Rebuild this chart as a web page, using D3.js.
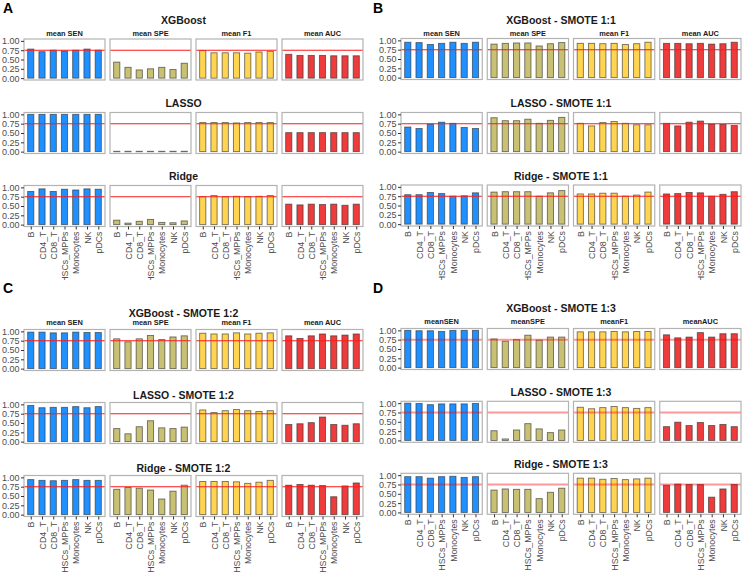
<!DOCTYPE html>
<html>
<head>
<meta charset="utf-8">
<script src="https://cdn.jsdelivr.net/npm/d3@7"></script>
<style>
  body { margin: 0; background: #fff; }
  text { font-family: "Liberation Sans", Arial, sans-serif; }
</style>
</head>
<body>
<div class="canvas"></div>
<script>
// categories + tick labels
const cellTypes = ["B", "CD4_T", "CD8_T", "HSCs_MPPs", "Monocytes", "NK", "pDCs"];
const models = ["XGBoost", "LASSO", "Ridge"];
const yTicks = [0, 0.25, 0.5, 0.75, 1];
const threshold = 0.75;
const metricColors = ["#1E90FF", "#C8C072", "#FFD451", "#EE3B3B"];

// values per panel: [SEN, SPE, F1, AUC]
const A_xgb   = [[0.78,0.71,0.75,0.73,0.75,0.78,0.75],[0.43,0.29,0.22,0.25,0.29,0.23,0.40],[0.74,0.68,0.68,0.68,0.67,0.70,0.72],[0.64,0.61,0.61,0.61,0.60,0.60,0.60]];
const A_lasso = [[1,1,1,1,1,1,1],[0.01,0.01,0.01,0.01,0.01,0.01,0.01],[0.78,0.78,0.78,0.77,0.78,0.78,0.78],[0.51,0.51,0.51,0.51,0.51,0.51,0.51]];
const A_ridge = [[0.89,0.96,0.89,0.95,0.93,0.96,0.95],[0.12,0.04,0.09,0.14,0.06,0.05,0.10],[0.75,0.78,0.75,0.76,0.75,0.76,0.78],[0.55,0.53,0.55,0.54,0.55,0.52,0.55]];

const B_xgb   = [[0.95,0.94,0.89,0.92,0.95,0.92,0.95],[0.90,0.92,0.93,0.93,0.85,0.91,0.94],[0.92,0.92,0.91,0.92,0.89,0.91,0.95],[0.92,0.92,0.91,0.92,0.90,0.91,0.95]];
const B_lasso = [[0.66,0.62,0.74,0.79,0.76,0.65,0.62],[0.91,0.83,0.83,0.87,0.76,0.84,0.92],[0.76,0.69,0.78,0.81,0.76,0.72,0.72],[0.76,0.69,0.79,0.82,0.74,0.73,0.70]];
const B_ridge = [[0.79,0.79,0.85,0.82,0.75,0.76,0.84],[0.86,0.87,0.87,0.87,0.75,0.84,0.90],[0.81,0.81,0.83,0.83,0.75,0.78,0.86],[0.81,0.82,0.85,0.84,0.75,0.80,0.87]];

const C_xgb   = [[0.98,0.98,0.96,0.96,0.98,0.97,0.97],[0.80,0.72,0.80,0.89,0.78,0.85,0.88],[0.95,0.93,0.93,0.96,0.93,0.95,0.96],[0.88,0.81,0.88,0.93,0.88,0.90,0.93]];
const C_lasso = [[0.97,0.91,0.92,0.92,0.94,0.91,0.94],[0.35,0.21,0.40,0.56,0.37,0.35,0.39],[0.85,0.78,0.83,0.86,0.83,0.81,0.83],[0.46,0.48,0.51,0.66,0.46,0.44,0.48]];
const C_ridge = [[0.94,0.92,0.91,0.92,0.94,0.92,0.92],[0.68,0.73,0.71,0.66,0.42,0.63,0.79],[0.89,0.89,0.89,0.88,0.84,0.87,0.92],[0.79,0.81,0.79,0.78,0.48,0.77,0.85]];

const D_xgb   = [[1.00,0.99,0.99,0.97,1.00,1.00,1.00],[0.77,0.71,0.75,0.87,0.74,0.82,0.82],[0.96,0.96,0.96,0.97,0.96,0.97,0.97],[0.88,0.80,0.82,0.94,0.82,0.91,0.91]];
const D_lasso = [[1.00,0.99,0.96,0.98,0.98,0.98,0.99],[0.26,0.04,0.28,0.45,0.31,0.21,0.28],[0.89,0.85,0.88,0.91,0.88,0.86,0.88],[0.37,0.49,0.40,0.48,0.40,0.43,0.37]];
const D_ridge = [[0.96,0.96,0.92,0.96,0.97,0.94,0.96],[0.60,0.63,0.62,0.62,0.37,0.54,0.65],[0.92,0.92,0.89,0.91,0.88,0.90,0.92],[0.73,0.76,0.75,0.75,0.41,0.63,0.75]];

const stripsSpaced = ["mean SEN", "mean SPE", "mean F1", "mean AUC"];
const stripsTight  = ["meanSEN", "meanSPE", "meanF1", "meanAUC"];

// layout of the four sub figures
const subfigs = [
  { letter: "A", x: 0,   y: 0,   w: 370, h: 280, boxL: 24,  boxR: 363, suffix: "",
    tops: [39, 112.5, 185.5], titleY: [20.7, 103, 176], stripY: 33, strips: stripsSpaced,
    data: [A_xgb, A_lasso, A_ridge], faded: false },
  { letter: "B", x: 370, y: 0,   w: 373, h: 280, boxL: 401, boxR: 741, suffix: " - SMOTE 1:1",
    tops: [38.5, 112.5, 185], titleY: [20, 103, 176], stripY: 33, strips: stripsSpaced,
    data: [B_xgb, B_lasso, B_ridge], faded: false },
  { letter: "C", x: 0,   y: 280, w: 370, h: 293, boxL: 24,  boxR: 363, suffix: " - SMOTE 1:2",
    tops: [329.5, 402.5, 475.5], titleY: [313, 395.3, 468.7], stripY: 322.7, strips: stripsSpaced,
    data: [C_xgb, C_lasso, C_ridge], faded: false },
  { letter: "D", x: 370, y: 280, w: 373, h: 293, boxL: 401, boxR: 741, suffix: " - SMOTE 1:3",
    tops: [328.5, 401.3, 473.3], titleY: [308, 392, 464], stripY: 321.3, strips: stripsTight,
    data: [D_xgb, D_lasso, D_ridge], faded: true }
];

const dims = { width: 743, height: 573, gap: 5, boxH: 41, barFrac: 0.55 };

const svg = d3.select('.canvas')
  .append('svg')
  .attr('width', dims.width)
  .attr('height', dims.height);

const fmt = d3.format(".2f");

subfigs.forEach((sf, si) => {
  const clipId = `clip${si}`;
  svg.append('clipPath').attr('id', clipId)
    .append('rect')
    .attr('x', sf.x).attr('y', sf.y).attr('width', sf.w).attr('height', sf.h);

  const g = svg.append('g').attr('clip-path', `url(#${clipId})`);

  // panel letter
  g.append('text')
    .attr('x', sf.x + 3).attr('y', sf.y + 13)
    .attr('font-size', 14).attr('font-weight', 'bold')
    .text(sf.letter);

  const fw = (sf.boxR - sf.boxL - 3 * dims.gap) / 4;

  const x = d3.scalePoint()
    .domain(cellTypes)
    .range([0, fw])
    .padding(0.6);
  const bw = x.step() * dims.barFrac;

  const y = d3.scaleLinear()
    .domain([-0.05, 1.05])
    .range([dims.boxH, 0]);

  models.forEach((model, r) => {
    const top = sf.tops[r];

    g.append('text')
      .attr('x', (sf.boxL - 20 + sf.boxR) / 2)
      .attr('y', sf.titleY[r])
      .attr('dy', '0.35em')
      .attr('text-anchor', 'middle')
      .attr('font-size', 10.5).attr('font-weight', 'bold')
      .attr('fill', '#1a1a1a')
      .text(model + sf.suffix);

    sf.data[r].forEach((vals, m) => {
      const fx = sf.boxL + m * (fw + dims.gap);
      const facet = g.append('g').attr('transform', `translate(${fx},${top})`);

      // strip labels on first row only
      if (r === 0) {
        g.append('text')
          .attr('x', fx + fw / 2).attr('y', sf.stripY)
          .attr('dy', '0.35em')
          .attr('text-anchor', 'middle')
          .attr('font-size', 7.4).attr('font-weight', 'bold')
          .attr('fill', '#1a1a1a')
          .text(sf.strips[m]);
      }

      facet.selectAll('rect.bar')
        .data(vals)
        .enter()
        .append('rect')
          .attr('class', 'bar')
          .attr('x', (d, i) => x(cellTypes[i]) - bw / 2)
          .attr('y', d => y(d))
          .attr('width', bw)
          .attr('height', d => Math.max(0.5, y(0) - y(d)))
          .attr('fill', metricColors[m])
          .attr('stroke', '#2b2b2b')
          .attr('stroke-opacity', 0.65)
          .attr('stroke-width', 0.9);

      // threshold line
      facet.append('line')
        .attr('x1', 0).attr('x2', fw)
        .attr('y1', y(threshold)).attr('y2', y(threshold))
        .attr('stroke', sf.faded ? 'rgba(255,0,0,0.4)' : '#ff1a1a')
        .attr('stroke-width', sf.faded ? 2 : 1.1);

      // panel border
      facet.append('rect')
        .attr('width', fw).attr('height', dims.boxH)
        .attr('fill', 'none')
        .attr('stroke', '#b3b3b3')
        .attr('stroke-width', 1.2);

      if (m === 0) {
        const ya = facet.append('g')
          .call(d3.axisLeft(y).tickValues(yTicks).tickFormat(fmt).tickSize(3).tickPadding(1.5));
        ya.select('.domain').remove();
        ya.selectAll('line').attr('stroke', '#333');
        ya.selectAll('text').attr('fill', '#4d4d4d').attr('font-size', 9)
          .style('font-family', '"Liberation Sans", Arial, sans-serif');
      }

      if (r === models.length - 1) {
        const xa = facet.append('g')
          .attr('transform', `translate(0,${dims.boxH})`)
          .call(d3.axisBottom(x).tickSize(3).tickPadding(2));
        xa.select('.domain').remove();
        xa.selectAll('line').attr('stroke', '#333');
        xa.selectAll('text')
          .attr('transform', 'rotate(-90)')
          .attr('x', -5).attr('y', 0).attr('dy', '0.35em')
          .attr('text-anchor', 'end')
          .attr('fill', '#4d4d4d').attr('font-size', 8.8)
          .style('font-family', '"Liberation Sans", Arial, sans-serif');
      }
    });
  });
});
</script>
</body>
</html>
